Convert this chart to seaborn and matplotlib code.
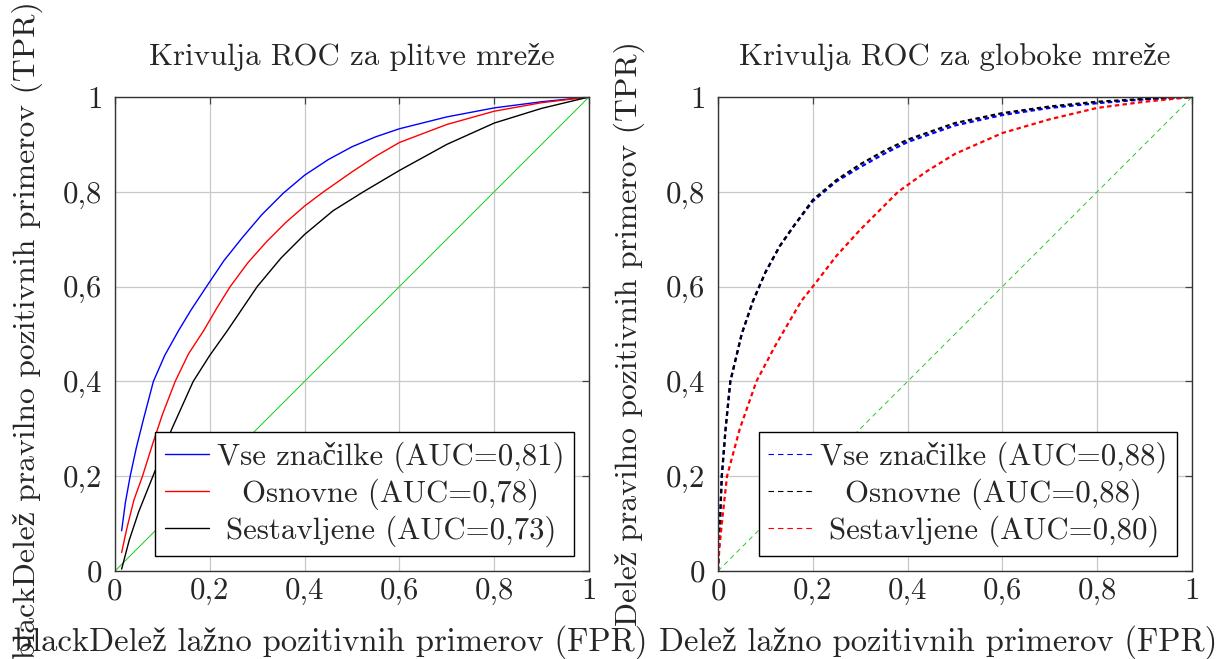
import matplotlib
matplotlib.use("Agg")
import matplotlib.pyplot as plt
import seaborn as sns

# ---------------- data ----------------
tick_vals = [0, 0.2, 0.4, 0.6, 0.8, 1.0]
tick_labels = ["0", "0,2", "0,4", "0,6", "0,8", "1"]

# shallow networks
sh_all_x = [0.014, 0.022, 0.032, 0.045, 0.06, 0.081, 0.105, 0.134, 0.16, 0.193, 0.23, 0.27,
            0.31, 0.355, 0.4, 0.45, 0.5, 0.55, 0.6, 0.7, 0.8, 0.9, 1.0]
sh_all_y = [0.085, 0.145, 0.2, 0.26, 0.32, 0.4, 0.455, 0.507, 0.55, 0.6, 0.655, 0.705,
            0.752, 0.797, 0.835, 0.868, 0.895, 0.916, 0.933, 0.958, 0.977, 0.99, 1.0]
sh_base_x = [0.014, 0.025, 0.04, 0.058, 0.08, 0.1, 0.127, 0.155, 0.187, 0.215, 0.243, 0.28,
             0.32, 0.36, 0.4, 0.44, 0.5, 0.55, 0.6, 0.7, 0.8, 0.9, 1.0]
sh_base_y = [0.039, 0.09, 0.15, 0.2, 0.27, 0.33, 0.4, 0.458, 0.507, 0.555, 0.6, 0.65,
             0.695, 0.735, 0.77, 0.80, 0.842, 0.875, 0.904, 0.942, 0.97, 0.988, 1.0]
sh_comp_x = [0.014, 0.03, 0.05, 0.08, 0.12, 0.165, 0.2, 0.237, 0.3, 0.35, 0.4, 0.46, 0.524,
             0.6, 0.7, 0.8, 0.9, 1.0]
sh_comp_y = [0.004, 0.065, 0.125, 0.2, 0.3, 0.4, 0.455, 0.507, 0.6, 0.66, 0.71, 0.76, 0.80,
             0.845, 0.9, 0.945, 0.976, 1.0]
sh_labels = ["Vse značilke (AUC=0,81)", "Osnovne (AUC=0,78)", "Sestavljene (AUC=0,73)"]

# deep networks
dp_all_x = [0, 0.002, 0.004, 0.008, 0.016, 0.026, 0.05, 0.074, 0.1, 0.13, 0.16, 0.2, 0.25,
            0.3, 0.35, 0.4, 0.5, 0.6, 0.7, 0.8, 0.9, 1.0]
dp_all_y = [0, 0.05, 0.1, 0.2, 0.3, 0.4, 0.5, 0.57, 0.63, 0.685, 0.728, 0.78, 0.822,
            0.852, 0.88, 0.905, 0.94, 0.962, 0.977, 0.987, 0.995, 1.0]
dp_base_x = [0, 0.002, 0.004, 0.008, 0.016, 0.026, 0.05, 0.074, 0.1, 0.13, 0.16, 0.2, 0.25,
             0.3, 0.35, 0.4, 0.5, 0.6, 0.7, 0.8, 0.9, 1.0]
dp_base_y = [0, 0.05, 0.1, 0.2, 0.3, 0.4, 0.5, 0.57, 0.63, 0.685, 0.728, 0.783, 0.825,
             0.858, 0.886, 0.91, 0.945, 0.966, 0.98, 0.99, 0.996, 1.0]
dp_comp_x = [0, 0.003, 0.008, 0.019, 0.046, 0.081, 0.12, 0.176, 0.2, 0.25, 0.3, 0.38, 0.44,
             0.5, 0.6, 0.7, 0.8, 0.9, 1.0]
dp_comp_y = [0, 0.05, 0.1, 0.2, 0.3, 0.4, 0.474, 0.57, 0.6, 0.665, 0.72, 0.8, 0.843,
             0.88, 0.924, 0.953, 0.977, 0.99, 1.0]
dp_labels = ["Vse značilke (AUC=0,88)", "Osnovne (AUC=0,88)", "Sestavljene (AUC=0,80)"]

diag_x = [0, 1]
diag_y = [0, 1]

titles = ["Krivulja ROC za plitve mreže", "Krivulja ROC za globoke mreže"]
xlabels = ["blackDelež lažno pozitivnih primerov (FPR)", "Delež lažno pozitivnih primerov (FPR)"]
ylabels = ["blackDelež pravilno pozitivnih primerov (TPR)", "Delež pravilno pozitivnih primerov (TPR)"]

# ---------------- style ----------------
sns.set_style("white")
plt.rcParams["font.family"] = ["cmr10", "Liberation Serif", "DejaVu Serif"]
plt.rcParams["axes.unicode_minus"] = False

FS = 22.2
XLFS = 23.5
YLFS = 22.8
plt.rcParams["font.size"] = FS
GREEN = "#33cc33"

fig = plt.figure(figsize=(12.21, 6.59), dpi=100)
ax1 = fig.add_axes([115 / 1221, 88 / 659, 474 / 1221, 474 / 659])
ax2 = fig.add_axes([718 / 1221, 88 / 659, 474 / 1221, 474 / 659])


def style(ax, title, xl, yl, ylx, yly, xlx):
    ax.set_xlim(0, 1)
    ax.set_ylim(0, 1)
    ax.set_xticks(tick_vals)
    ax.set_xticklabels(tick_labels)
    ax.set_yticks(tick_vals)
    ax.set_yticklabels(tick_labels)
    ax.grid(True, color="#c8c8c8", lw=0.9)
    ax.set_axisbelow(True)
    ax.tick_params(direction="in", length=5, width=0.9, color="#444444",
                   top=True, right=True, labelsize=FS)
    ax.tick_params(axis="y", pad=9)
    ax.tick_params(axis="x", pad=5)
    for s in ax.spines.values():
        s.set_color("#333333")
        s.set_linewidth(1.0)
        s.set_visible(True)
    ax.set_title(title, fontsize=FS, pad=23)
    ax.set_xlabel(xl, fontsize=XLFS)
    ax.set_ylabel(yl, fontsize=YLFS)
    ax.xaxis.set_label_coords(xlx, -0.114)
    ax.yaxis.set_label_coords(ylx, yly)


def center_legend(leg):
    fig.canvas.draw()
    r = fig.canvas.get_renderer()
    texts = leg.get_texts()
    widths = [t.get_window_extent(r).width for t in texts]
    maxw = max(widths)
    col = leg._legend_handle_box.get_children()[0]
    rows = col.get_children()
    p2px = r.points_to_pixels(1.0)
    for row, w in zip(rows, widths):
        row.sep = row.sep + (maxw - w) / 2 / p2px


# ---- left: shallow ----
sns.lineplot(x=diag_x, y=diag_y, ax=ax1, color=GREEN, lw=0.8)
sns.lineplot(x=sh_all_x, y=sh_all_y, ax=ax1, color="blue", lw=1.0, estimator=None)
sns.lineplot(x=sh_base_x, y=sh_base_y, ax=ax1, color="red", lw=1.0, estimator=None)
sns.lineplot(x=sh_comp_x, y=sh_comp_y, ax=ax1, color="black", lw=1.0, estimator=None)
lines1 = ax1.get_lines()[1:4]
style(ax1, titles[0], xlabels[0], ylabels[0], -0.152, 0.508, 0.456)
leg1 = ax1.legend(lines1, sh_labels, loc="lower right", bbox_to_anchor=(0.968, 0.032),
                  borderaxespad=0, frameon=True, fancybox=False, edgecolor="black",
                  framealpha=1, fontsize=FS, handlelength=1.45, handletextpad=0.25,
                  borderpad=0.3, labelspacing=0.18)
leg1.get_frame().set_linewidth(1.0)

# ---- right: deep ----
sns.lineplot(x=diag_x, y=diag_y, ax=ax2, color="#22cc22", lw=0.7, linestyle=(0, (5, 4)))
sns.lineplot(x=dp_all_x, y=dp_all_y, ax=ax2, color="blue", lw=1.6, estimator=None,
             linestyle=(0, (2, 1.5)))
sns.lineplot(x=dp_base_x, y=dp_base_y, ax=ax2, color="black", lw=1.6, estimator=None,
             linestyle=(0, (2, 1.5)))
sns.lineplot(x=dp_comp_x, y=dp_comp_y, ax=ax2, color="red", lw=1.6, estimator=None,
             linestyle=(0, (2, 1.5)))
lines2 = ax2.get_lines()[1:4]
style(ax2, titles[1], xlabels[1], ylabels[1], -0.154, 0.5, 0.465)
leg2 = ax2.legend(lines2, dp_labels, loc="lower right", bbox_to_anchor=(0.968, 0.032),
                  borderaxespad=0, frameon=True, fancybox=False, edgecolor="black",
                  framealpha=1, fontsize=FS, handlelength=1.45, handletextpad=0.25,
                  borderpad=0.3, labelspacing=0.18)
leg2.get_frame().set_linewidth(1.0)
for ln in leg2.get_lines():
    ln.set_linewidth(0.8)
    ln.set_linestyle((0, (5, 3.5)))

center_legend(leg1)
center_legend(leg2)

fig.savefig("out.png", dpi=100)
